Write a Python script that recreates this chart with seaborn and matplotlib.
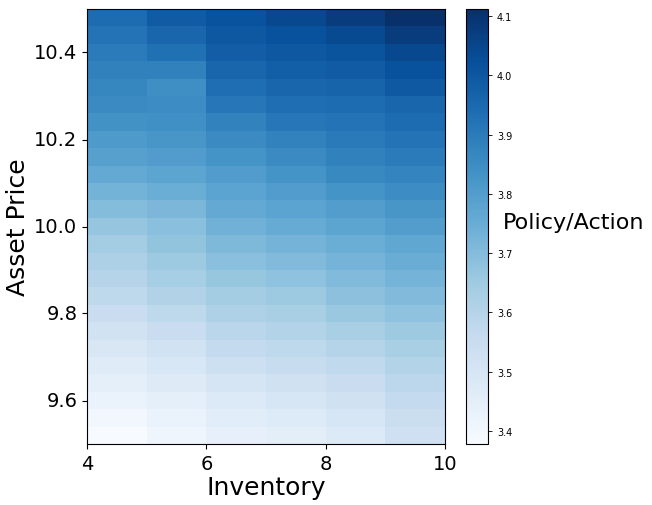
import numpy as np
import pandas as pd
import matplotlib
matplotlib.use("Agg")
import matplotlib.pyplot as plt
import seaborn as sns

# Inventory bins (left edges) and asset-price row centres (bottom to top)
inventory = [4, 5, 6, 7, 8, 9]
inventory_edges = [4, 5, 6, 7, 8, 9, 10]
price = [9.52, 9.56, 9.60, 9.64, 9.68, 9.72, 9.76, 9.80, 9.84, 9.88,
         9.92, 9.96, 10.00, 10.04, 10.08, 10.12, 10.16, 10.20, 10.24, 10.28,
         10.32, 10.36, 10.40, 10.44, 10.48]
price_lo, price_hi = 9.5, 10.5

# Policy values per inventory column, bottom (9.52) to top (10.48)
inv4 = [3.380, 3.400, 3.426, 3.445, 3.465, 3.490, 3.520, 3.550, 3.580, 3.600,
        3.620, 3.640, 3.670, 3.700, 3.730, 3.760, 3.790, 3.810, 3.835, 3.855,
        3.870, 3.885, 3.900, 3.920, 3.940]
inv5 = [3.410, 3.425, 3.445, 3.470, 3.495, 3.520, 3.550, 3.580, 3.610, 3.635,
        3.655, 3.675, 3.690, 3.715, 3.745, 3.775, 3.805, 3.825, 3.840, 3.850,
        3.845, 3.885, 3.930, 3.960, 3.990]
inv6 = [3.440, 3.460, 3.480, 3.505, 3.535, 3.565, 3.590, 3.615, 3.640, 3.665,
        3.690, 3.710, 3.735, 3.760, 3.780, 3.805, 3.830, 3.855, 3.880, 3.910,
        3.935, 3.960, 3.985, 4.000, 4.015]
inv7 = [3.455, 3.475, 3.500, 3.525, 3.555, 3.580, 3.605, 3.630, 3.655, 3.680,
        3.705, 3.725, 3.755, 3.780, 3.805, 3.830, 3.855, 3.880, 3.910, 3.935,
        3.960, 3.980, 4.000, 4.020, 4.045]
inv8 = [3.480, 3.500, 3.525, 3.550, 3.575, 3.600, 3.630, 3.660, 3.685, 3.705,
        3.725, 3.745, 3.775, 3.800, 3.830, 3.860, 3.885, 3.905, 3.920, 3.940,
        3.965, 3.990, 4.010, 4.040, 4.075]
inv9 = [3.530, 3.545, 3.565, 3.585, 3.605, 3.630, 3.655, 3.680, 3.705, 3.725,
        3.750, 3.770, 3.800, 3.825, 3.850, 3.875, 3.900, 3.920, 3.940, 3.960,
        3.995, 4.020, 4.045, 4.075, 4.110]

vmin, vmax = 3.378, 4.112
x_ticks = [4, 6, 8, 10]
y_ticks = [9.6, 9.8, 10.0, 10.2, 10.4]
cbar_ticks = [3.4, 3.5, 3.6, 3.7, 3.8, 3.9, 4.0, 4.1]

cols = [inv4, inv5, inv6, inv7, inv8, inv9]
df = pd.DataFrame(np.array(cols).T, index=price, columns=inventory)
df = df.iloc[::-1]  # highest price on top

fig = plt.figure(figsize=(6.52, 5.06), dpi=100)
W, H = 652, 506
ax = fig.add_axes([87 / W, (H - 445) / H, (445 - 87) / W, 435 / H])
cax = fig.add_axes([466 / W, (H - 445) / H, 22 / W, 435 / H])

sns.heatmap(df, ax=ax, cbar_ax=cax, cmap="Blues", vmin=vmin, vmax=vmax,
            linewidths=0, cbar_kws={"ticks": cbar_ticks})

# numeric tick positions mapped into heatmap cell coordinates
nrow = len(price)
xpos = np.interp(x_ticks, inventory_edges, np.arange(len(inventory_edges)))
ypos = np.interp(y_ticks, [price_lo, price_hi], [nrow, 0])
ax.set_xticks(xpos)
ax.set_xticklabels([str(t) for t in x_ticks], rotation=0, fontsize=14)
ax.set_yticks(ypos)
ax.set_yticklabels([f"{t:.1f}" for t in y_ticks], rotation=0, fontsize=14)
ax.tick_params(axis="both", length=3.5, width=0.8, color="black", direction="out")

for s in ax.spines.values():
    s.set_visible(True)
    s.set_color("black")
    s.set_linewidth(0.8)

ax.set_xlabel("Inventory", fontsize=18, labelpad=2)
ax.set_ylabel("Asset Price", fontsize=18, labelpad=3)

cb = ax.collections[0].colorbar
cb.outline.set_linewidth(0.8)
cb.outline.set_edgecolor("black")
cax.tick_params(labelsize=7, length=3, width=0.6)
cax.set_yticklabels([f"{t:.1f}" for t in cbar_ticks])
cb.set_label("Policy/Action", rotation=0, fontsize=16, ha="left", va="center")
cax.yaxis.set_label_coords((503 - 466) / 22, 1 - (223 - 10) / 435)

fig.savefig("out.png", dpi=100, facecolor="white")
